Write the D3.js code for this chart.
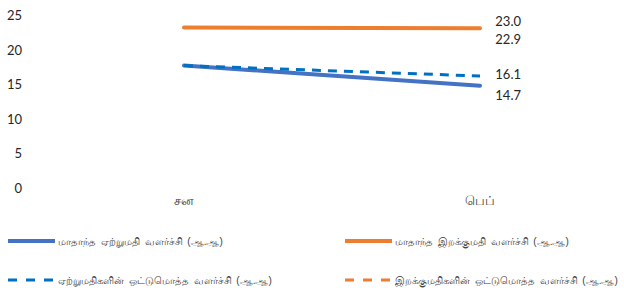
<!DOCTYPE html>
<html>
<head>
<meta charset="utf-8">
<script src="https://cdn.jsdelivr.net/npm/d3@7"></script>
<style>
  body { margin: 0; background: #fff; }
  svg { display: block; }
</style>
</head>
<body>
<svg id="chart" width="624" height="293"></svg>
<script>
// DATA
var months = ["சன", "பெப்"];
var yTicks = [0, 5, 10, 15, 20, 25];
var seriesNames = [
  "மாதாந்த ஏற்றுமதி வளர்ச்சி (ஆ.ஆ)",
  "மாதாந்த இறக்குமதி வளர்ச்சி (ஆ.ஆ)",
  "ஏற்றுமதிகளின் ஒட்டுமொத்த வளர்ச்சி (ஆ.ஆ)",
  "இறக்குமதிகளின் ஒட்டுமொத்த வளர்ச்சி (ஆ.ஆ)"
];
var exportMonthly = [17.6, 14.7];
var importMonthly = [23.1, 23.0];
var exportCumulative = [17.6, 16.1];
var importCumulative = [23.1, 22.9];

// STYLE
var series = [
  {name: seriesNames[0], values: exportMonthly, color: "#4472C4", width: 4, dash: null, dy: 10},
  {name: seriesNames[1], values: importMonthly, color: "#ED7D31", width: 4, dash: null, dy: -7},
  {name: seriesNames[2], values: exportCumulative, color: "#0070C0", width: 3, dash: "9,7", dy: -2},
  {name: seriesNames[3], values: importCumulative, color: "#ED7D31", width: 2, dash: "9,7", dy: 11}
];
var drawOrder = [3, 1, 0, 2];

var svg = d3.select("#chart");

var x = d3.scaleBand().domain(months).range([36, 628]);
var y = d3.scaleLinear().domain([0, 25]).range([187.4, 14.4]);

function cx(m){ return x(m) + x.bandwidth()/2; }

// y axis labels
svg.append("g").selectAll("text")
  .data(yTicks).enter().append("text")
    .attr("x", 22)
    .attr("y", function(d){ return y(d) + 1; })
    .attr("dy", "0.35em")
    .attr("text-anchor", "end")
    .style("font-family", "Lato, 'Open Sans', sans-serif")
    .style("font-size", "13px")
    .style("fill", "#262626")
    .text(function(d){ return d; });

// x labels
svg.append("g").selectAll("text")
  .data(months).enter().append("text")
    .attr("x", function(d){ return cx(d); })
    .attr("y", 205)
    .attr("text-anchor", "middle")
    .style("font-family", "sans-serif")
    .style("font-size", "12.5px")
    .style("fill", "#404040")
    .text(function(d){ return d; });

var line = d3.line()
  .x(function(d, i){ return cx(months[i]); })
  .y(function(d){ return y(d); });

drawOrder.forEach(function(k){
  var s = series[k];
  svg.append("path")
    .datum(s.values)
    .attr("d", line)
    .attr("fill", "none")
    .attr("stroke", s.color)
    .attr("stroke-width", s.width)
    .attr("stroke-linecap", s.dash ? "butt" : "round")
    .attr("stroke-dasharray", s.dash);
});

// end value labels
series.forEach(function(s){
  var last = s.values[s.values.length - 1];
  svg.append("text")
    .attr("x", cx(months[1]) + 41)
    .attr("y", y(last) + s.dy)
    .attr("dy", "0.35em")
    .attr("text-anchor", "end")
    .style("font-family", "Lato, 'Open Sans', sans-serif")
    .style("font-size", "13px")
    .style("fill", "#262626")
    .text(last.toFixed(1));
});

// legend
var legendPos = [[8, 241], [345, 241], [8, 280], [345, 280]];
series.forEach(function(s, i){
  var p = legendPos[i];
  var g = svg.append("g").attr("transform", "translate(" + p[0] + "," + p[1] + ")");
  g.append("line")
    .attr("x1", 0).attr("x2", 47)
    .attr("stroke", s.color)
    .attr("stroke-width", s.dash ? 3 : 4)
    .attr("stroke-dasharray", s.dash ? "9,9" : null);
  g.append("text")
    .attr("x", 50)
    .attr("dy", "0.35em")
    .style("font-family", "sans-serif")
    .style("font-size", "10px")
    .style("word-spacing", "2px")
    .style("fill", "#404040")
    .text(s.name);
});
</script>
</body>
</html>
